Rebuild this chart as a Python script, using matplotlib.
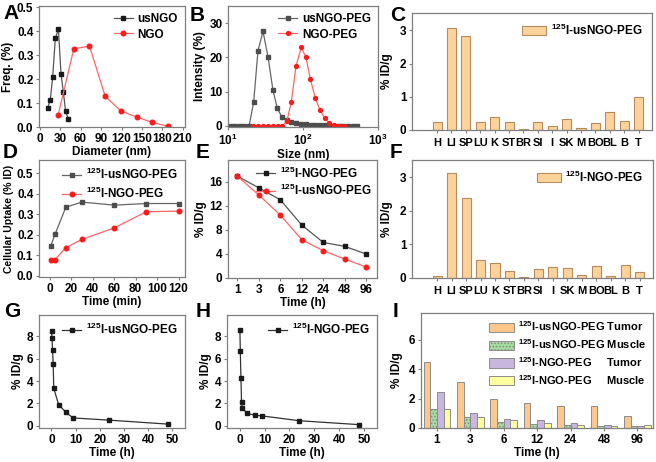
import matplotlib
matplotlib.use("Agg")
import matplotlib.pyplot as plt
import numpy as np

plt.rcParams['font.family'] = ['Liberation Sans', 'DejaVu Sans']
plt.rcParams['font.weight'] = 'bold'
plt.rcParams['axes.labelweight'] = 'bold'
plt.rcParams['mathtext.fontset'] = 'custom'
plt.rcParams['mathtext.bf'] = 'Liberation Sans:bold'
plt.rcParams['mathtext.rm'] = 'Liberation Sans:bold'
plt.rcParams['mathtext.default'] = 'bf'
plt.rcParams['hatch.color'] = '#6fb86f'
plt.rcParams['hatch.linewidth'] = 0.8

# ---------------- data ----------------
# A
a_us_x = [11.7, 15.6, 19, 23, 27.4, 31.3, 34.7, 38, 42]
a_us_y = [0.079, 0.114, 0.208, 0.371, 0.408, 0.222, 0.146, 0.065, 0.033]
a_ngo_x = [27, 50, 73, 96, 119, 142, 165, 188]
a_ngo_y = [0.049, 0.326, 0.338, 0.128, 0.067, 0.042, 0.019, 0.003]
# B
b_us_x = [10.8, 12.4, 14.3, 16.5, 19.1, 22.0, 25.1, 29.3, 34.2, 39.8, 45.5, 52.5, 61.2, 69.8,
          81.5, 95, 110, 127, 146, 169, 195, 225, 260, 300, 346, 400, 461, 532]
b_us_y = [0, 0, 0, 0, 0, 7.0, 21.9, 27.6, 20.1, 10.4, 5.1, 2.6, 1.7, 1.2,
          0.8, 0.6, 0.5, 0.4, 0.3, 0.2, 0.15, 0.1, 0.1, 0.1, 0.1, 0.1, 0.1, 0.1]
b_ngo_x = [21.5, 25, 29, 34, 40, 46.5, 53, 61.2, 69.9, 80.7, 95, 109.6, 125.3, 146,
           168.5, 194.5, 224, 259, 302, 348]
b_ngo_y = [0, 0, 0, 0, 0, 0, 0, 1.5, 7.0, 17.5, 22.9, 20.0, 13.7, 8.1,
           4.6, 2.3, 0.9, 0.3, 0.1, 0.0]
# C, F
organs = ['H', 'LI', 'SP', 'LU', 'K', 'ST', 'BR', 'SI', 'I', 'SK', 'M', 'BO', 'BL', 'B', 'T']
c_vals = [0.23, 3.07, 2.84, 0.23, 0.38, 0.23, 0.02, 0.23, 0.11, 0.32, 0.07, 0.20, 0.53, 0.26, 1.00]
f_vals = [0.07, 3.13, 2.38, 0.53, 0.46, 0.21, 0.03, 0.28, 0.33, 0.31, 0.09, 0.37, 0.07, 0.38, 0.19]
# D
d_t = [1, 5, 15, 30, 60, 90, 120]
d_us = [0.147, 0.204, 0.335, 0.360, 0.345, 0.353, 0.353]
d_ngo = [0.079, 0.080, 0.138, 0.178, 0.234, 0.313, 0.316]
# E
e_labels = ['1', '3', '6', '12', '24', '48', '96']
e_ngo = [16.9, 14.97, 12.98, 8.78, 5.9, 5.25, 3.98]
e_us = [16.9, 13.76, 10.44, 6.35, 4.53, 3.15, 1.82]
# G, H
gh_t = [0.083, 0.25, 0.5, 0.75, 1, 3, 6, 9, 24, 48]
g_vals = [8.5, 7.8, 6.8, 5.5, 3.35, 1.9, 1.2, 0.7, 0.5, 0.15]
h_vals = [8.6, 6.7, 4.25, 2.1, 1.6, 1.1, 0.95, 0.88, 0.45, 0.1]
# I
i_labels = ['1', '3', '6', '12', '24', '48', '96']
i_us_tumor = [4.48, 3.12, 1.99, 1.70, 1.52, 1.47, 0.81]
i_us_muscle = [1.31, 0.75, 0.41, 0.27, 0.20, 0.16, 0.16]
i_ngo_tumor = [2.44, 1.02, 0.63, 0.57, 0.32, 0.23, 0.16]
i_ngo_muscle = [1.31, 0.75, 0.57, 0.32, 0.23, 0.16, 0.20]
i_names = [r'$^{125}$I-usNGO-PEG Tumor', r'$^{125}$I-usNGO-PEG Muscle',
           r'$^{125}$I-NGO-PEG     Tumor', r'$^{125}$I-NGO-PEG     Muscle']

# ---------------- figure ----------------
W, H = 656, 462
fig = plt.figure(figsize=(W / 100, H / 100), dpi=100)

def mkax(l, r, t, b):
    return fig.add_axes([l / W, 1 - b / H, (r - l) / W, (b - t) / H])

FS = 8.5
TS = 8.5
SP = '#7f7f7f'

def style(ax):
    for s in ax.spines.values():
        s.set_color(SP)
        s.set_linewidth(0.9)
    ax.tick_params(direction='out', length=2.5, width=0.8, color=SP,
                   labelsize=TS, pad=1.5)

def letter(x, y, s):
    fig.text(x / W, 1 - y / H, s, fontsize=15, fontweight='bold', va='top', ha='left')

BLK = '#1a1a1a'
GRY = '#4d4d4d'
RED = '#ff1a1a'
LRED = '#ff6666'
legkw = dict(frameon=False, handlelength=1.6, handletextpad=0.4,
             borderaxespad=0.2, labelspacing=0.3, prop={'weight': 'bold', 'size': FS})
MS = 3.0

# A
ax = mkax(39, 185, 6, 127)
ax.plot(a_us_x, a_us_y, '-s', color='#555555', mfc=BLK, mec=BLK, ms=MS, lw=0.9, label='usNGO')
ax.plot(a_ngo_x, a_ngo_y, '-o', color=LRED, mfc=RED, mec=RED, ms=MS + 0.3, lw=0.9, label='NGO')
ax.set_xlim(-1, 213)
ax.set_ylim(0, 0.505)
ax.set_xticks(range(0, 211, 30))
ax.set_yticks([0, 0.1, 0.2, 0.3, 0.4, 0.5])
ax.set_yticklabels(['0.0', '0.1', '0.2', '0.3', '0.4', '0.5'])
ax.set_xlabel('Diameter (nm)', fontsize=FS, labelpad=1)
ax.set_ylabel('Freq. (%)', fontsize=FS, labelpad=2)
ax.legend(loc='upper right', **legkw)
style(ax)

# B
ax = mkax(228, 378, 6, 127)
ax.plot(b_us_x, b_us_y, '-s', color='#666666', mfc=GRY, mec=GRY, ms=2.6, lw=0.9, label='usNGO-PEG')
ax.plot(b_ngo_x, b_ngo_y, '-o', color=LRED, mfc=RED, mec=RED, ms=2.8, lw=0.9, label='NGO-PEG')
ax.set_xscale('log')
ax.set_xlim(10, 1000)
ax.set_ylim(-0.3, 35)
ax.set_yticks([0, 10, 20, 30])
ax.set_xlabel('Size (nm)', fontsize=FS, labelpad=1)
ax.set_ylabel('Intensity (%)', fontsize=FS, labelpad=2)
ax.legend(loc='upper right', **legkw)
style(ax)
ax.tick_params(which='minor', length=0)

BARC = '#FDD29B'
BARE = '#B88B5E'

def organ_panel(l, r, t, b, vals, lab):
    ax = mkax(l, r, t, b)
    x = np.arange(len(organs))
    ax.bar(x, vals, width=0.63, color=BARC, edgecolor=BARE, lw=0.8, label=lab)
    ax.set_xlim(-1.74, 14.93)
    ax.set_ylim(0, 3.52)
    ax.set_xticks(x)
    ax.set_xticklabels(organs)
    ax.set_yticks([0, 1, 2, 3])
    ax.set_ylabel('% ID/g', fontsize=FS, labelpad=5)
    ax.legend(loc='upper right', handlelength=2.0, handleheight=0.9, frameon=False,
              handletextpad=0.4, borderaxespad=0.4, prop={'weight': 'bold', 'size': FS})
    style(ax)
    ax.tick_params(axis='x', labelsize=8, pad=3)
    return ax

organ_panel(412, 652, 13, 130, c_vals, r'$^{125}$I-usNGO-PEG')

# D
ax = mkax(39, 185, 160, 277)
ax.plot(d_t, d_us, '-s', color='#666666', mfc=GRY, mec=GRY, ms=MS, lw=0.9, label=r'$^{125}$I-usNGO-PEG')
ax.plot(d_t, d_ngo, '-o', color=LRED, mfc=RED, mec=RED, ms=MS + 0.3, lw=0.9, label=r'$^{125}$I-NGO-PEG')
ax.set_xlim(-10, 126)
ax.set_ylim(-0.005, 0.565)
ax.set_xticks(range(0, 121, 20))
ax.set_yticks([0, 0.1, 0.2, 0.3, 0.4, 0.5])
ax.set_yticklabels(['0.0', '0.1', '0.2', '0.3', '0.4', '0.5'])
ax.set_xlabel('Time (min)', fontsize=FS, labelpad=1)
ax.set_ylabel('Cellular Uptake (% ID)', fontsize=7.5, labelpad=2)
ax.legend(loc='upper right', **legkw)
style(ax)

# E
ax = mkax(228, 377, 160, 278)
xe = np.arange(len(e_labels))
ax.plot(xe, e_ngo, '-s', color='#555555', mfc=BLK, mec=BLK, ms=MS, lw=0.9, label=r'$^{125}$I-NGO-PEG')
ax.plot(xe, e_us, '-o', color=LRED, mfc=RED, mec=RED, ms=MS + 0.3, lw=0.9, label=r'$^{125}$I-usNGO-PEG')
ax.set_xlim(-0.44, 6.5)
ax.set_ylim(0, 19.6)
ax.set_xticks(xe)
ax.set_xticklabels(e_labels)
ax.set_yticks([0, 4, 8, 12, 16])
ax.set_xlabel('Time (h)', fontsize=FS, labelpad=1)
ax.set_ylabel('% ID/g', fontsize=FS, labelpad=2)
ax.legend(loc='upper right', frameon=False, handlelength=1.6, handletextpad=0.4,
          borderaxespad=0.05, labelspacing=0.2, prop={'weight': 'bold', 'size': FS})
style(ax)

# F
organ_panel(412, 653, 160, 278, f_vals, r'$^{125}$I-NGO-PEG')

# G, H
def pk_panel(l, r, t, b, vals, lab):
    ax = mkax(l, r, t, b)
    ax.plot(gh_t, vals, '-s', color='#333333', mfc=BLK, mec=BLK, ms=MS, lw=0.9, label=lab)
    ax.set_xlim(-5.1, 55.2)
    ax.set_ylim(-0.2, 9.9)
    ax.set_xticks(range(0, 51, 10))
    ax.set_yticks([0, 2, 4, 6, 8])
    ax.set_xlabel('Time (h)', fontsize=FS, labelpad=1)
    ax.set_ylabel('% ID/g', fontsize=FS, labelpad=2)
    ax.legend(loc='upper right', **legkw)
    style(ax)
    return ax

pk_panel(39, 185, 315, 428, g_vals, r'$^{125}$I-usNGO-PEG')
pk_panel(227, 377, 315, 428, h_vals, r'$^{125}$I-NGO-PEG')

# I
ax = mkax(421, 653, 313, 428)
xi = np.arange(len(i_labels))
series = [i_us_tumor, i_us_muscle, i_ngo_tumor, i_ngo_muscle]
cols = ['#FCC88E', '#A6DDA0', '#C9B6DE', '#FFFFA0']
hatches = [None, '.....', None, None]
bw = 0.2
for k, (vals, c, hh, nm) in enumerate(zip(series, cols, hatches, i_names)):
    ax.bar(xi + (k - 1.5) * bw, vals, width=bw, color=c, edgecolor='#8c8c8c',
           lw=0.7, label=nm, hatch=hh)
ax.set_xlim(-0.48, 6.47)
ax.set_ylim(0, 7.8)
ax.set_xticks(xi)
ax.set_xticklabels(i_labels)
ax.set_yticks([0, 2, 4, 6])
ax.set_xlabel('Time (h)', fontsize=FS, labelpad=1)
ax.set_ylabel('% ID/g', fontsize=FS, labelpad=4)
ax.legend(loc='upper right', handlelength=2.2, handleheight=0.9, frameon=False,
          handletextpad=0.4, borderaxespad=0.2, labelspacing=0.35,
          prop={'weight': 'bold', 'size': 8})
style(ax)

letter(3, 4, 'A')
letter(190, 6, 'B')
letter(390, 6, 'C')
letter(3, 143, 'D')
letter(196, 143, 'E')
letter(390, 143, 'F')
letter(4, 302, 'G')
letter(196, 302, 'H')
letter(393, 302, 'I')

fig.savefig('out.png', dpi=100)
